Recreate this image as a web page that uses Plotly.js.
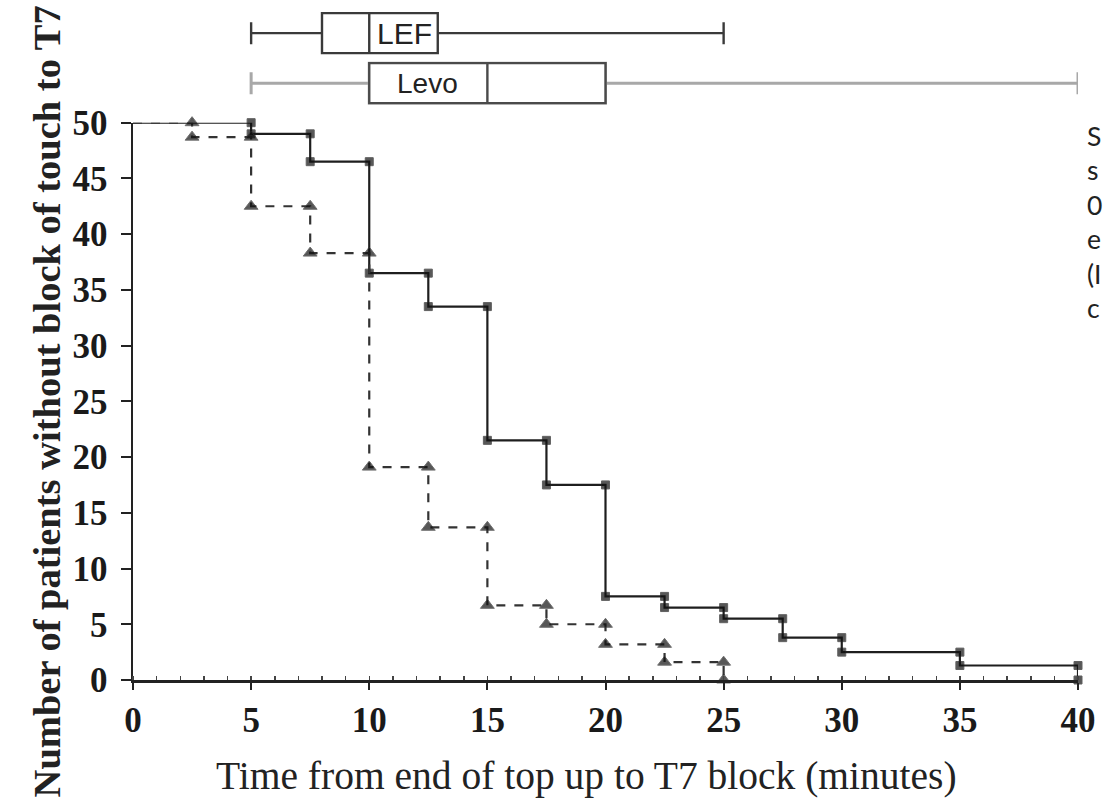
<!DOCTYPE html>
<html>
<head>
<meta charset="utf-8">
<script src="https://cdn.plot.ly/plotly-3.0.1.min.js"></script>
<style>
  html, body { margin: 0; padding: 0; background: #ffffff; }
  #chart { width: 1103px; height: 811px; }
</style>
</head>
<body>
<div id="chart"></div>
<script>
// ---- Data ----
// Levobupivacaine group: solid line, square markers
const levoTimes = [0, 5, 7.5, 10, 12.5, 15, 17.5, 20, 22.5, 25, 27.5, 30, 35, 40];
const levoCounts = [50, 49, 46.5, 36.5, 33.5, 21.5, 17.5, 7.5, 6.5, 5.5, 3.8, 2.5, 1.3, 0];
// LEF group: dashed line, triangle markers
const lefTimes = [0, 2.5, 5, 7.5, 10, 12.5, 15, 17.5, 20, 22.5, 25];
const lefCounts = [50, 48.7, 42.5, 38.3, 19.1, 13.7, 6.7, 5.0, 3.2, 1.6, 0];

// Box plot summaries (minutes): lower whisker, Q1, median, Q3, upper whisker
const boxNames = ["LEF", "Levo"];
const boxLower = [5, 5];
const boxQ1 = [8, 10];
const boxMedian = [10, 15];
const boxQ3 = [12.9, 20];
const boxUpper = [25, 40];

// Axis ticks
const xTicks = [0, 5, 10, 15, 20, 25, 30, 35, 40];
const yTicks = [0, 5, 10, 15, 20, 25, 30, 35, 40, 45, 50];

// Titles
const xTitle = "Time from end of top up to T7 block (minutes)";
const yTitle = "Number of patients without block of touch to T7";

// Cut-off slide text on the right edge
const sideText = ["S", "s", "0", "e", "(I", "c"];

// ---- Build step paths (corner points) from the data ----
function stepPath(times, counts) {
  const xs = [times[0]], ys = [counts[0]], sizes = [0];
  for (let i = 1; i < times.length; i++) {
    xs.push(times[i]); ys.push(counts[i - 1]); sizes.push(1);
    xs.push(times[i]); ys.push(counts[i]); sizes.push(1);
  }
  return { xs, ys, sizes };
}
const levoPath = stepPath(levoTimes, levoCounts);
const lefPath = stepPath(lefTimes, lefCounts);

const serif = "Liberation Serif, Times New Roman, serif";
const sans = "Liberation Sans, Arial, sans-serif";

const traces = [
  {
    type: "scatter", mode: "lines+markers", name: "Levo",
    x: levoPath.xs, y: levoPath.ys,
    line: { color: "#1e1e1e", width: 2.2, shape: "linear" },
    marker: { symbol: "square", color: "#111", size: levoPath.sizes.map(s => s * 8) },
    cliponaxis: false, hoverinfo: "x+y"
  },
  {
    type: "scatter", mode: "lines+markers", name: "LEF",
    x: lefPath.xs, y: lefPath.ys,
    line: { color: "#333333", width: 2.2, dash: "dash", shape: "linear" },
    marker: { symbol: "triangle-up", color: "#111", size: lefPath.sizes.map(s => s * 12) },
    cliponaxis: false, hoverinfo: "x+y"
  },
  // LEF box
  {
    type: "box", orientation: "h", name: boxNames[0],
    y: [1], q1: [boxQ1[0]], median: [boxMedian[0]], q3: [boxQ3[0]],
    lowerfence: [boxLower[0]], upperfence: [boxUpper[0]],
    xaxis: "x", yaxis: "y2", width: 0.8, whiskerwidth: 0.55,
    fillcolor: "rgba(255,255,255,1)", line: { color: "#3a3a3a", width: 2.4 },
    boxpoints: false, hoverinfo: "skip"
  },
  // Levo whiskers (light grey)
  {
    type: "box", orientation: "h", name: boxNames[1] + " whiskers",
    y: [0], q1: [boxQ1[1]], median: [boxMedian[1]], q3: [boxQ3[1]],
    lowerfence: [boxLower[1]], upperfence: [boxUpper[1]],
    xaxis: "x", yaxis: "y2", width: 0.8, whiskerwidth: 0.55,
    fillcolor: "rgba(255,255,255,1)", line: { color: "#a8a8a8", width: 3 },
    boxpoints: false, hoverinfo: "skip"
  },
  // Levo box (darker outline)
  {
    type: "box", orientation: "h", name: boxNames[1],
    y: [0], q1: [boxQ1[1]], median: [boxMedian[1]], q3: [boxQ3[1]],
    lowerfence: [boxQ1[1]], upperfence: [boxQ3[1]],
    xaxis: "x", yaxis: "y2", width: 0.8, whiskerwidth: 0,
    fillcolor: "rgba(255,255,255,1)", line: { color: "#4a4a4a", width: 2.4 },
    boxpoints: false, hoverinfo: "skip"
  }
];

// plot area spans pixel rows 0..680 (t = 0, b = 131), columns 133..1078
const plotH = 680, plotW = 945;

const layout = {
  width: 1103, height: 811,
  margin: { l: 133, r: 25, t: 0, b: 131 },
  paper_bgcolor: "#ffffff", plot_bgcolor: "#ffffff",
  showlegend: false,
  font: { family: serif, color: "#1a1a1a" },
  xaxis: {
    range: [0, 40], domain: [0, 1],
    tickvals: xTicks, ticktext: xTicks.map(String),
    ticks: "outside", ticklen: 7, tickwidth: 2, tickcolor: "#222",
    minor: { dtick: 1, ticks: "inside", ticklen: 4, tickwidth: 1.5, tickcolor: "#444", showgrid: false },
    showline: true, linecolor: "#222", linewidth: 2.5,
    showgrid: false, zeroline: false,
    tickfont: { family: serif, size: 35, color: "#1a1a1a", weight: "bold" }
  },
  yaxis: {
    range: [0, 50], domain: [0, 0.8196],
    tickvals: yTicks, ticktext: yTicks.map(String),
    ticks: "outside", ticklen: 10, tickwidth: 2, tickcolor: "#222",
    ticklabelstandoff: 6,
    showline: true, linecolor: "#222", linewidth: 2.5,
    showgrid: false, zeroline: false,
    tickfont: { family: serif, size: 35, color: "#1a1a1a", weight: "bold" },
    title: { text: yTitle,
             font: { family: serif, size: 38.5, color: "#222", weight: "bold" }, standoff: 0 }
  },
  yaxis2: {
    domain: [0.841, 0.988], range: [-0.5, 1.5], anchor: "x",
    visible: false, showgrid: false, zeroline: false, fixedrange: true
  },
  annotations: [
    { xref: "paper", yref: "paper", x: (586 - 133) / plotW, y: 1 - 776 / plotH,
      xanchor: "center", yanchor: "middle", showarrow: false, text: xTitle,
      font: { family: serif, size: 39.5, color: "#222" } },
    { xref: "x", yref: "y2", x: 11.5, y: 1, text: boxNames[0], showarrow: false,
      font: { family: sans, size: 30, color: "#222" } },
    { xref: "x", yref: "y2", x: 12.45, y: 0, text: boxNames[1], showarrow: false,
      font: { family: sans, size: 28, color: "#222" } },
    { xref: "paper", yref: "paper", x: 1.0074, y: 1 - 118 / plotH,
      xanchor: "left", yanchor: "top", align: "left", showarrow: false,
      text: sideText.join("<br>"),
      font: { family: "Lato, Carlito, Liberation Sans, sans-serif", size: 26.5, color: "#222" } }
  ]
};

Plotly.newPlot("chart", traces, layout, { displayModeBar: false, staticPlot: true });
</script>
</body>
</html>
